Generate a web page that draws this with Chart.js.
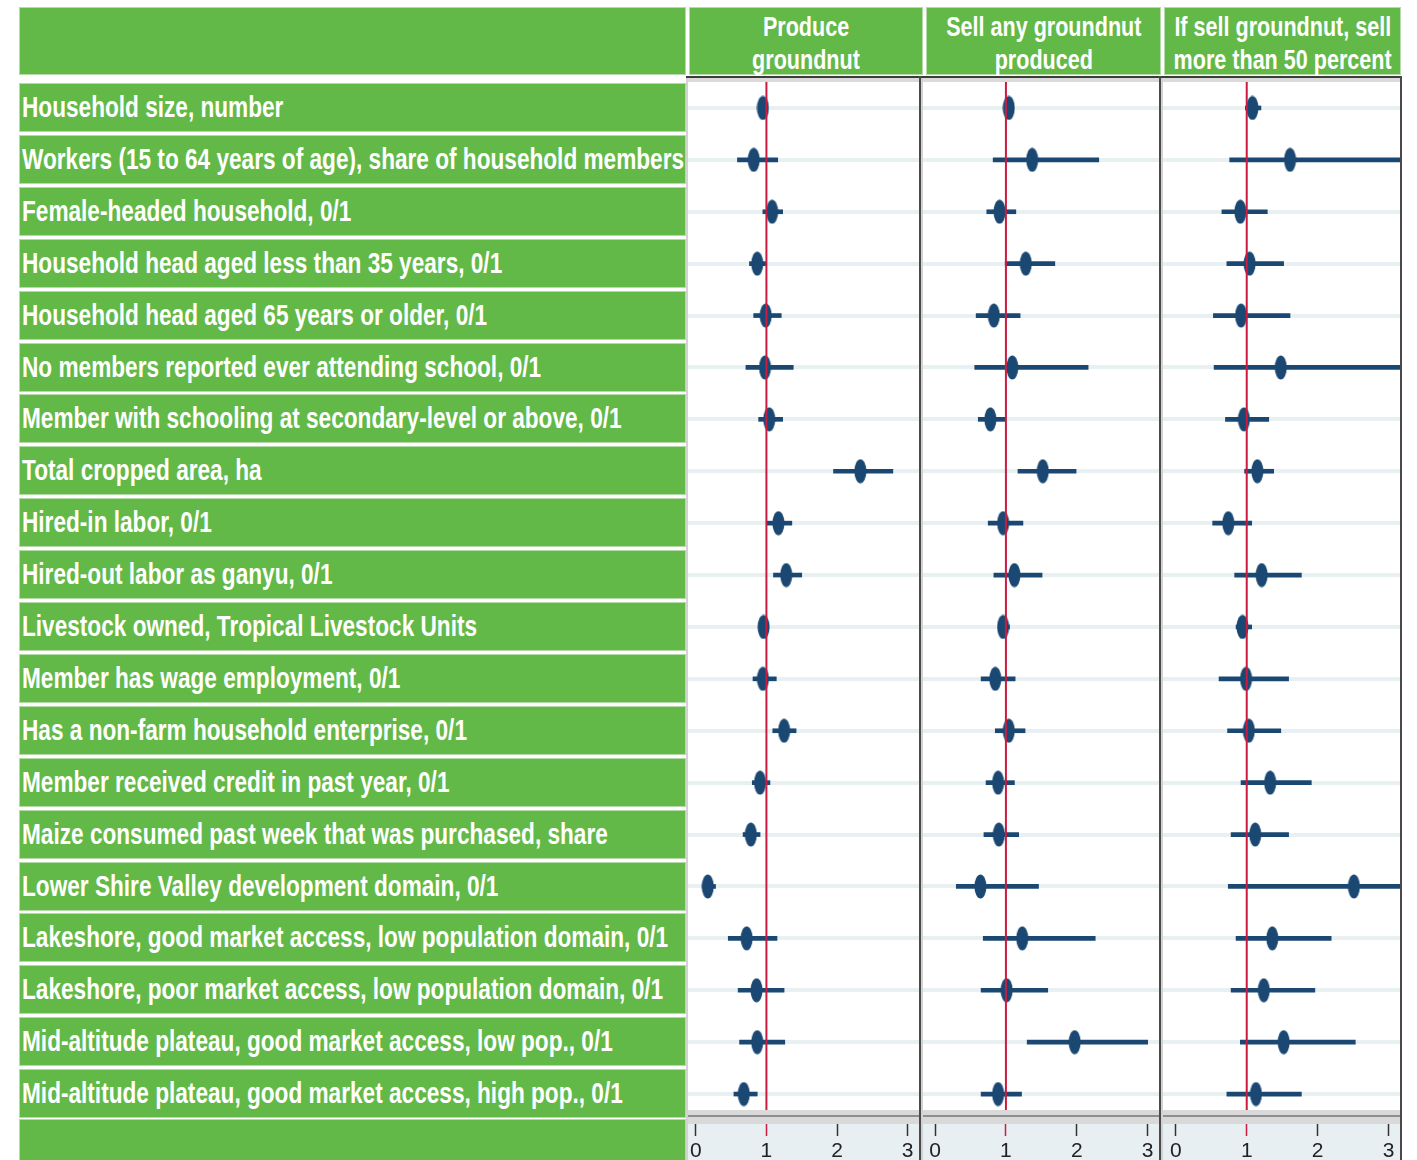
<!DOCTYPE html>
<html>
<head>
<meta charset="utf-8">
<script src="https://cdn.jsdelivr.net/npm/chart.js@4.4.1/dist/chart.umd.min.js"></script>
<style>
body { margin: 0; background: #fff; width: 1417px; height: 1160px; overflow: hidden; position: relative; font-family: "Liberation Sans", Arial, sans-serif; }
.box { position: absolute; background: #63b947; color: #fff; box-sizing: border-box; border: 1px solid #b5dca8; }
.lab { display: flex; align-items: center; padding-left: 2px; }
.lab span { display: inline-block; white-space: nowrap; font-size: 29px; font-weight: bold; transform: scaleX(0.78); transform-origin: left center; }
.head { display: flex; flex-direction: column; align-items: center; justify-content: center; padding-top: 3px; }
.head span { display: inline-block; white-space: nowrap; font-size: 28px; line-height: 33px; font-weight: bold; transform: scaleX(0.77); transform-origin: center; }
.panel { position: absolute; top: 75px; }
</style>
</head>
<body>
<script>
console.log('groundnut chart');

var rowLabels = [
	'Household size, number',
	'Workers (15 to 64 years of age), share of household members',
	'Female-headed household, 0/1',
	'Household head aged less than 35 years, 0/1',
	'Household head aged 65 years or older, 0/1',
	'No members reported ever attending school, 0/1',
	'Member with schooling at secondary-level or above, 0/1',
	'Total cropped area, ha',
	'Hired-in labor, 0/1',
	'Hired-out labor as ganyu, 0/1',
	'Livestock owned, Tropical Livestock Units',
	'Member has wage employment, 0/1',
	'Has a non-farm household enterprise, 0/1',
	'Member received credit in past year, 0/1',
	'Maize consumed past week that was purchased, share',
	'Lower Shire Valley development domain, 0/1',
	'Lakeshore, good market access, low population domain, 0/1',
	'Lakeshore, poor market access, low population domain, 0/1',
	'Mid-altitude plateau, good market access, low pop., 0/1',
	'Mid-altitude plateau, good market access, high pop., 0/1'
];

var panelTitles = [
	['Produce', 'groundnut'],
	['Sell any groundnut', 'produced'],
	['If sell groundnut, sell', 'more than 50 percent']
];

var axisTicks = [0, 1, 2, 3];

// produce groundnut
var produceEst = [0.95, 0.82, 1.08, 0.87, 0.99, 0.98, 1.04, 2.33, 1.17, 1.28, 0.96, 0.95, 1.25, 0.91, 0.78, 0.17, 0.72, 0.86, 0.87, 0.68];
var produceLo  = [0.91, 0.59, 0.95, 0.76, 0.82, 0.71, 0.89, 1.95, 1.01, 1.10, 0.91, 0.81, 1.09, 0.80, 0.67, 0.10, 0.46, 0.60, 0.62, 0.54];
var produceHi  = [1.00, 1.16, 1.23, 1.00, 1.21, 1.38, 1.23, 2.79, 1.36, 1.50, 1.02, 1.14, 1.42, 1.05, 0.91, 0.28, 1.15, 1.25, 1.26, 0.87];

// sell any groundnut produced
var sellEst = [1.04, 1.37, 0.91, 1.28, 0.83, 1.09, 0.78, 1.52, 0.96, 1.12, 0.96, 0.85, 1.04, 0.89, 0.90, 0.64, 1.23, 1.01, 1.97, 0.89];
var sellLo  = [0.99, 0.82, 0.73, 0.99, 0.58, 0.56, 0.61, 1.17, 0.75, 0.83, 0.89, 0.65, 0.85, 0.72, 0.69, 0.30, 0.68, 0.65, 1.30, 0.65];
var sellHi  = [1.10, 2.31, 1.14, 1.69, 1.20, 2.16, 0.99, 1.99, 1.24, 1.51, 1.05, 1.13, 1.27, 1.12, 1.18, 1.46, 2.26, 1.59, 3.00, 1.22];

// if sell, sell more than 50 percent
var shareEst = [1.08, 1.61, 0.91, 1.04, 0.92, 1.48, 0.96, 1.15, 0.74, 1.21, 0.94, 0.99, 1.03, 1.33, 1.12, 2.51, 1.36, 1.24, 1.52, 1.13];
var shareLo  = [0.98, 0.76, 0.65, 0.72, 0.53, 0.54, 0.70, 0.97, 0.52, 0.83, 0.85, 0.61, 0.73, 0.92, 0.78, 0.74, 0.85, 0.78, 0.91, 0.72];
var shareHi  = [1.20, 3.40, 1.29, 1.52, 1.61, 3.60, 1.31, 1.38, 1.07, 1.77, 1.07, 1.59, 1.48, 1.91, 1.59, 3.50, 2.19, 1.96, 2.53, 1.77];

var NAVY = '#1b4872';
var RED = '#cc1a40';

// left label column
function addBox(cls, left, top, width, height, html){
	var d = document.createElement('div');
	d.className = 'box ' + cls;
	d.style.left = left + 'px';
	d.style.top = top + 'px';
	d.style.width = width + 'px';
	d.style.height = height + 'px';
	d.innerHTML = html;
	document.body.appendChild(d);
	return d;
}

addBox('', 19, 7, 667, 68, '');
for(var i = 0; i < rowLabels.length; i++){
	addBox('lab', 19, Math.round(83 + 51.9 * i), 667, 49, '<span>' + rowLabels[i] + '</span>');
}
addBox('', 19, 1119, 667, 45, '');

var headBoxes = [[689, 234], [926, 235], [1164, 237]];
for(var i = 0; i < panelTitles.length; i++){
	addBox('head', headBoxes[i][0], 7, headBoxes[i][1], 68, '<span>' + panelTitles[i][0] + '</span><span>' + panelTitles[i][1] + '</span>');
}

function ellipseMarker(w, h, color){
	var c = document.createElement('canvas');
	c.width = w;
	c.height = h;
	var g = c.getContext('2d');
	g.fillStyle = color;
	g.beginPath();
	g.ellipse(w / 2, h / 2, w / 2 - 0.5, h / 2 - 0.5, 0, 0, Math.PI * 2);
	g.fill();
	return c;
}
var marker = ellipseMarker(13, 25, NAVY);

var panelDeco = {
	id: 'panelDeco',
	beforeDraw: function(chart){
		var ctx = chart.ctx, a = chart.chartArea;
		ctx.save();
		ctx.fillStyle = '#e8eff2';
		ctx.fillRect(0, a.bottom, chart.width, chart.height - a.bottom);
		ctx.fillStyle = '#fff';
		ctx.fillRect(0, a.top, chart.width, a.bottom - a.top);
		ctx.fillStyle = '#3c3c3c';
		ctx.fillRect(0, a.top - 6, chart.width, 2);
		ctx.fillStyle = '#dadada';
		ctx.fillRect(0, a.top - 4, chart.width, 4);
		ctx.restore();
	},
	afterDatasetsDraw: function(chart){
		var ctx = chart.ctx, a = chart.chartArea;
		var x1 = chart.scales.x.getPixelForValue(1);
		ctx.save();
		ctx.strokeStyle = RED;
		ctx.lineWidth = 2;
		ctx.beginPath();
		ctx.moveTo(x1, a.top);
		ctx.lineTo(x1, a.bottom - 10);
		ctx.stroke();
		// bottom frame band
		ctx.fillStyle = '#d9d9d9';
		ctx.fillRect(0, a.bottom - 10, chart.width, 14);
		ctx.fillStyle = '#8e8e8e';
		ctx.fillRect(0, a.bottom - 5, chart.width, 2);
		// side frames
		ctx.fillStyle = '#d2d2d2';
		ctx.fillRect(a.left - 2, a.top - 4, 2, chart.height);
		ctx.fillStyle = '#4a4a4a';
		ctx.fillRect(a.right, a.top - 6, 2, chart.height);
		ctx.restore();
	}
};

function buildPanel(left, width, xmin, est, lo, hi){
	var wrap = document.createElement('div');
	wrap.className = 'panel';
	wrap.style.left = left + 'px';
	var canvas = document.createElement('canvas');
	canvas.width = width;
	canvas.height = 1085;
	wrap.appendChild(canvas);
	document.body.appendChild(wrap);

	return new Chart(canvas, {
		type: 'bar',
		data: {
			labels: rowLabels,
			datasets: [
			{
				type: 'line',
				indexAxis: 'y',
				data: est,
				showLine: false,
				pointStyle: marker,
				pointRadius: 10,
				order: 0
			},
			{
				type: 'bar',
				indexAxis: 'y',
				data: lo.map(function(v, i){ return [v, hi[i]]; }),
				backgroundColor: NAVY,
				borderWidth: 0,
				barThickness: 4,
				clip: 0,
				order: 1
			}
			]
		},
		plugins: [panelDeco],
		options: {
			indexAxis: 'y',
			responsive: false,
			animation: false,
			devicePixelRatio: 1,
			layout: { autoPadding: false, padding: { top: 7, left: 2, right: 2, bottom: 0 } },
			plugins: { legend: { display: false }, tooltip: { enabled: false } },
			scales: {
				x: {
					type: 'linear',
					min: xmin,
					max: 3.16,
					afterBuildTicks: function(s){ s.ticks = axisTicks.map(function(v){ return { value: v }; }); },
					afterFit: function(s){
						s.height = 40;
						s.paddingLeft = 0;
						s.paddingRight = 0;
					},
					border: { display: false },
					grid: {
						drawOnChartArea: false,
						tickLength: 16,
						tickWidth: 1.5,
						tickColor: function(c){ return c.tick && c.tick.value === 1 ? RED : '#333'; }
					},
					ticks: {
						padding: 3,
						color: '#222',
						font: { family: 'Liberation Sans', size: 21 },
						maxRotation: 0,
						callback: function(v){ return v; }
					}
				},
				y: {
					type: 'category',
					afterFit: function(s){ s.width = 0; },
					border: { display: false },
					grid: { offset: false, color: '#e9f0f2', lineWidth: 4, drawTicks: false },
					ticks: { display: false }
				}
			}
		}
	});
}

window.produceChart = buildPanel(686, 235, -0.11, produceEst, produceLo, produceHi);
window.sellChart = buildPanel(921, 240, -0.17, sellEst, sellLo, sellHi);
window.shareChart = buildPanel(1161, 241, -0.18, shareEst, shareLo, shareHi);
</script>
</body>
</html>
